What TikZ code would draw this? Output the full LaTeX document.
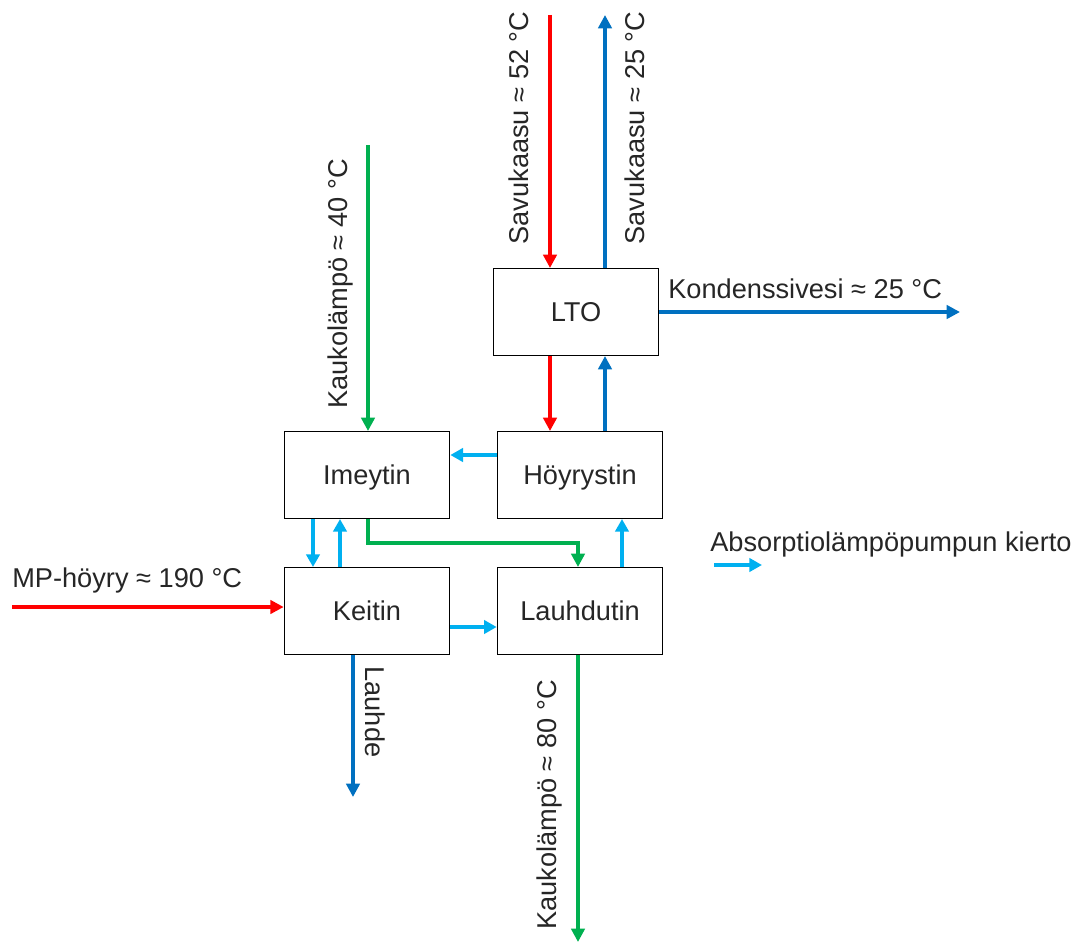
\documentclass[tikz,border=0pt]{standalone}
\usepackage{fontspec}
\setmainfont{Liberation Sans}
\usetikzlibrary{arrows.meta}
\definecolor{cred}{HTML}{FF0000}
\definecolor{cblue}{HTML}{0070C0}
\definecolor{cgreen}{HTML}{00B050}
\definecolor{clight}{HTML}{00B0F0}
\definecolor{ctext}{HTML}{262626}
\begin{document}
\begin{tikzpicture}[x=0.75pt,y=-0.75pt,
  every node/.style={font=\fontsize{20.4}{24}\selectfont, text=ctext},
  unit/.style={draw=black, line width=1pt, minimum width=124pt, minimum height=65pt, inner sep=0pt, text height=14.6pt, text depth=0pt},
  thick flow/.style={line width=3pt, -{Triangle[length=10pt,width=10pt]}},
  light flow/.style={draw=clight, line width=2.6pt, -{Triangle[length=9.5pt,width=10pt]}},
  lbl/.style={inner sep=0pt}
]
\useasboundingbox (0,0) rectangle (1092,942);

% units
\node[unit] (LTO) at (576,312) {LTO};
\node[unit] (IME) at (367,475) {Imeytin};
\node[unit] (HOY) at (580,475) {Höyrystin};
\node[unit] (KEI) at (367,611) {Keitin};
\node[unit] (LAU) at (580,611) {Lauhdutin};

% free ends
\coordinate (sgin) at (550,15);
\coordinate (sgout) at (605,15);
\coordinate (kond) at (960,312);
\coordinate (kl40) at (368,145);
\coordinate (mp) at (12,607);
\coordinate (lauhde) at (353,797);
\coordinate (kl80) at (578,942);
\coordinate (legA) at (714,565);
\coordinate (legB) at (762,565);

% flue gas
\draw[thick flow, draw=cred] (sgin) -- (sgin |- LTO.north);
\draw[thick flow, draw=cblue] (sgout |- LTO.north) -- (sgout);
\draw[thick flow, draw=cblue] (LTO.east |- kond) -- (kond);
\draw[thick flow, draw=cred] (sgin |- LTO.south) -- (sgin |- HOY.north);
\draw[thick flow, draw=cblue] (sgout |- HOY.north) -- (sgout |- LTO.south);

% district heat
\draw[thick flow, draw=cgreen] (kl40) -- (kl40 |- IME.north);
\draw[thick flow, draw=cgreen, line join=miter] (kl40 |- IME.south) -- (368,543) -- (578,543) -- (578,0 |- LAU.north);
\draw[thick flow, draw=cgreen] (578,0 |- LAU.south) -- (kl80);

% steam
\draw[thick flow, draw=cred] (mp) -- (mp -| KEI.west);
\draw[thick flow, draw=cblue] (lauhde |- KEI.south) -- (lauhde);

% absorption cycle
\draw[light flow] (HOY.west |- 0,455) -- (IME.east |- 0,455);
\draw[light flow] (313,0 |- IME.south) -- (313,0 |- KEI.north);
\draw[light flow] (340,0 |- KEI.north) -- (340,0 |- IME.south);
\draw[light flow] (KEI.east |- 0,627) -- (LAU.west |- 0,627);
\draw[light flow] (622,0 |- LAU.north) -- (622,0 |- HOY.south);
\draw[light flow] (legA) -- (legB);

% labels
\node[lbl, rotate=90] (t1) at (519,128) {Savukaasu ≈ 52 °C};
\node[lbl, rotate=90] (t2) at (635,128) {Savukaasu ≈ 25 °C};
\node[lbl, anchor=west] (t3) at (668,289) {Kondenssivesi ≈ 25 °C};
\node[lbl, rotate=90] (t4) at (340,284) {Kaukolämpö ≈ 40 °C};
\node[lbl, rotate=90] (t5) at (549,805) {Kaukolämpö ≈ 80 °C};
\node[lbl, rotate=-90] (t6) at (375,712) {Lauhde};
\node[lbl, anchor=west] (t7) at (12,580) {MP-höyry ≈ 190 °C};
\node[lbl, anchor=west] (t8) at (710,544) {Absorptiolämpöpumpun kierto};
\end{tikzpicture}
\end{document}
